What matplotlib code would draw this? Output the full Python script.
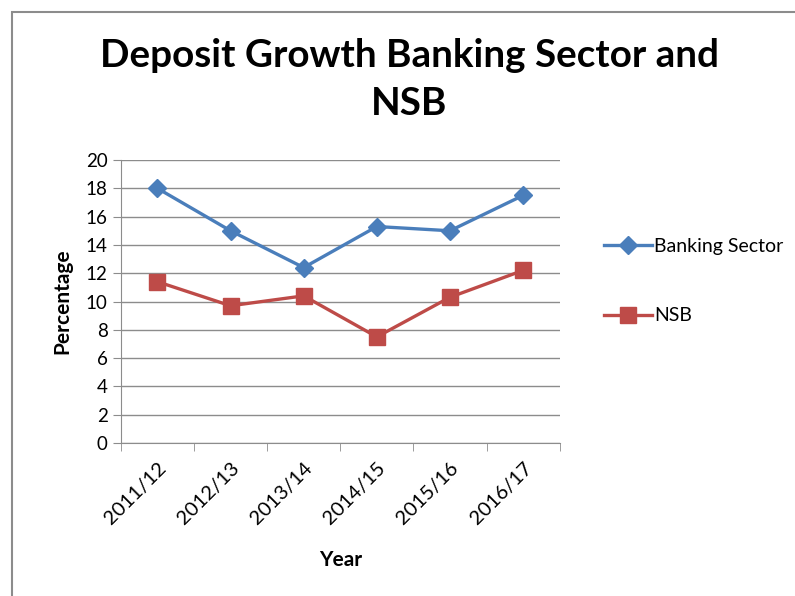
import matplotlib.pyplot as plt
from matplotlib.patches import Rectangle

# Deposit growth data (percent)
years = ['2011/12', '2012/13', '2013/14', '2014/15', '2015/16', '2016/17']
banking_sector = [18.0, 15.0, 12.4, 15.3, 15.0, 17.5]
nsb = [11.4, 9.7, 10.4, 7.5, 10.3, 12.2]

plt.rcParams['font.family'] = ['Lato', 'DejaVu Sans']

fig = plt.figure(figsize=(7.95, 5.96), dpi=100)
ax = fig.add_axes([0.152, 0.2567, 0.552, 0.4748])

# outer chart border (only top and left visible in the crop)
fig.patches.append(Rectangle((12 / 795, -0.1), 1.2, 1 - 12 / 596 + 0.1,
                             transform=fig.transFigure, fill=False,
                             edgecolor='#8c8c8c', linewidth=1.5))

x = range(len(years))
ax.plot(x, banking_sector, color='#4A7EBB', linewidth=2.4, marker='D',
        markersize=9, label='Banking Sector')
ax.plot(x, nsb, color='#BE4B48', linewidth=2.4, marker='s',
        markersize=11, label='NSB')

ax.set_ylim(0, 20)
ax.set_yticks(range(0, 21, 2))
ax.set_xlim(-0.5, len(years) - 0.5)
ax.set_xticks(list(x))
ax.set_xticklabels(years, rotation=45, ha='right', rotation_mode='anchor')
ax.set_xticks([i - 0.5 for i in range(len(years) + 1)], minor=True)
ax.tick_params(axis='x', which='major', length=0, pad=12, labelsize=14.5)
ax.tick_params(axis='x', which='minor', length=6, color='#8c8c8c')
ax.tick_params(axis='y', length=6, color='#8c8c8c', labelsize=13.5)

ax.grid(axis='y', color='#8c8c8c', linewidth=1)
ax.set_axisbelow(True)
for side in ['top', 'right']:
    ax.spines[side].set_visible(False)
for side in ['left', 'bottom']:
    ax.spines[side].set_color('#8c8c8c')

ax.set_ylabel('Percentage', fontsize=15, fontweight='bold', labelpad=10)
ax.set_xlabel('Year', fontsize=15, fontweight='bold', labelpad=16)

fig.text(0.515, 0.866, 'Deposit Growth Banking Sector and\nNSB', ha='center',
         va='center', fontsize=27.8, fontweight='bold', linespacing=1.45)

ax.legend(loc='center left', bbox_to_anchor=(1.06, 0.572), frameon=False,
          fontsize=14, labelspacing=2.7, handlelength=2.5, handletextpad=0.1)

fig.savefig('out.png', dpi=100)
